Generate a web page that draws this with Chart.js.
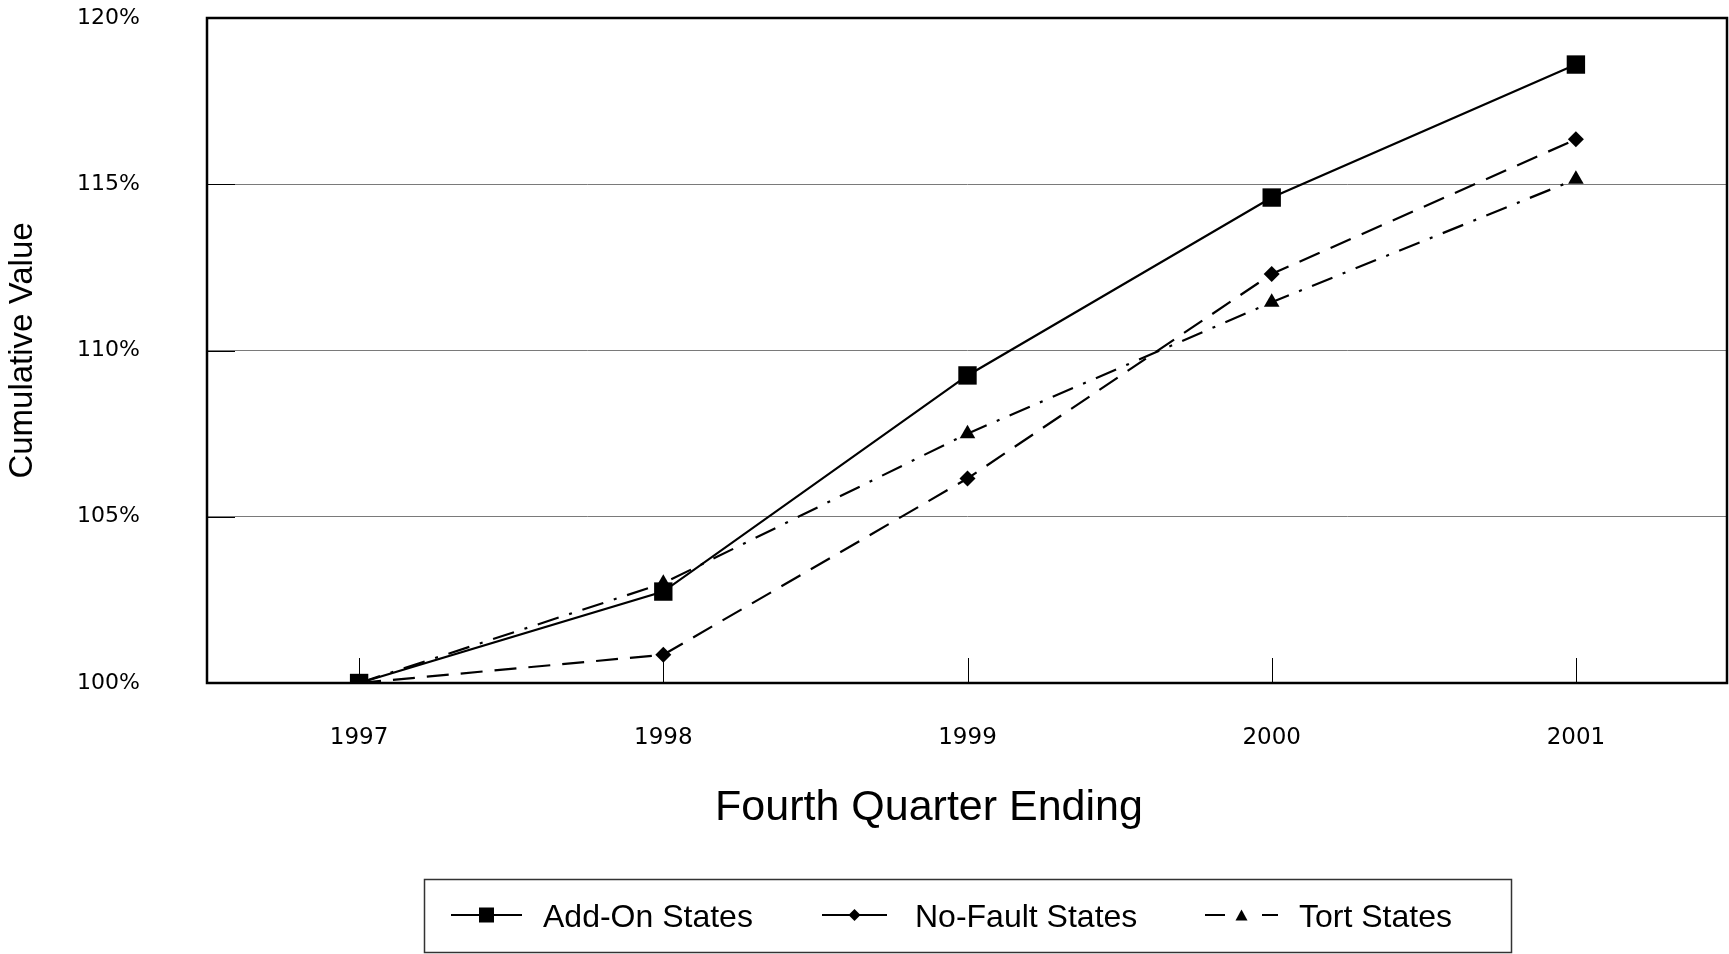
<!DOCTYPE html>
<html>
<head>
<meta charset="utf-8">
<script src="https://cdn.jsdelivr.net/npm/chart.js@4/dist/chart.umd.min.js"></script>
<style>
  html, body { margin: 0; padding: 0; background: #ffffff; }
  #wrap { width: 1729px; height: 954px; }
</style>
</head>
<body>
<div id="wrap"><canvas id="c" width="1729" height="954"></canvas></div>
<script>
// ---- data ----
const categories = ['1997', '1998', '1999', '2000', '2001'];
const addOnStates = [100, 102.75, 109.25, 114.6, 118.6];
const noFaultStates = [100, 100.85, 106.15, 112.3, 116.35];
const tortStates = [100, 103.0, 107.5, 111.45, 115.15];
const yTickValues = [100, 105, 110, 115, 120];
const seriesNames = ['Add-On States', 'No-Fault States', 'Tort States'];
const xTitle = 'Fourth Quarter Ending';
const yTitle = 'Cumulative Value';

function drawMarker(ctx, style, x, y, s) {
  ctx.beginPath();
  if (style === 'rect') {
    ctx.rect(x - s / 2, y - s / 2, s, s);
  } else if (style === 'rectRot') {
    ctx.moveTo(x, y - s / 2); ctx.lineTo(x + s / 2, y);
    ctx.lineTo(x, y + s / 2); ctx.lineTo(x - s / 2, y);
    ctx.closePath();
  } else if (style === 'triangle') {
    const h = s * 0.9;
    ctx.moveTo(x, y - h / 2); ctx.lineTo(x + s / 2, y + h / 2);
    ctx.lineTo(x - s / 2, y + h / 2); ctx.closePath();
  }
  ctx.fillStyle = '#000';
  ctx.fill();
}

const framePlugin = {
  id: 'frame',
  beforeDatasetsDraw(chart) {
    const ctx = chart.ctx;
    const { left, top, right, bottom } = chart.chartArea;
    const xs = chart.scales.x, ys = chart.scales.y;
    ctx.save();
    // short y tick marks inside the plot
    ctx.strokeStyle = '#000';
    ctx.lineWidth = 1;
    ys.ticks.forEach(t => {
      const py = Math.round(ys.getPixelForValue(t.value)) + 0.5;
      ctx.beginPath(); ctx.moveTo(left, py); ctx.lineTo(left + 28, py); ctx.stroke();
    });
    // x tick marks pointing up from the bottom axis
    categories.forEach((c, i) => {
      const px = Math.round(xs.getPixelForValue(i)) + 0.5;
      ctx.beginPath(); ctx.moveTo(px, bottom - 25); ctx.lineTo(px, bottom); ctx.stroke();
    });
    // frame
    ctx.lineWidth = 2.5;
    ctx.strokeRect(left, top, right - left - 1, bottom - top);
    ctx.restore();
  },
  afterDraw(chart) {
    const ctx = chart.ctx;
    ctx.save();
    // x axis title
    ctx.fillStyle = '#000';
    ctx.font = '43px "Liberation Sans", Arial, sans-serif';
    ctx.textAlign = 'center';
    ctx.textBaseline = 'alphabetic';
    ctx.fillText(xTitle, 929, 820);

    // legend box
    ctx.strokeStyle = '#333';
    ctx.lineWidth = 1.5;
    ctx.strokeRect(424.5, 879.5, 1087, 73);
    const starts = [451, 822, 1205];
    const lens = [71, 65, 73];
    const textX = [543, 915, 1299];
    const sizes = [15, 12, 12];
    chart.data.datasets.forEach((ds, i) => {
      const x0 = starts[i], x1 = x0 + lens[i], y = 915;
      ctx.strokeStyle = '#000';
      ctx.lineWidth = 2;
      ctx.setLineDash(i === 2 ? [20, 37, 16] : []);
      ctx.beginPath(); ctx.moveTo(x0, y); ctx.lineTo(x1, y); ctx.stroke();
      ctx.setLineDash([]);
      drawMarker(ctx, ds.pointStyle, (x0 + x1) / 2, y, sizes[i]);
      ctx.fillStyle = '#000';
      ctx.font = '32px "Liberation Sans", Arial, sans-serif';
      ctx.textAlign = 'left';
      ctx.textBaseline = 'alphabetic';
      ctx.fillText(ds.label, textX[i], 927);
    });
    ctx.restore();
  }
};

new Chart(document.getElementById('c'), {
  type: 'line',
  data: {
    labels: categories,
    datasets: [
      {
        label: seriesNames[0], data: addOnStates,
        borderColor: '#000', backgroundColor: '#000', borderWidth: 2.2,
        pointStyle: 'rect', pointRadius: 13, pointBorderWidth: 0,
        pointBackgroundColor: '#000', tension: 0
      },
      {
        label: seriesNames[1], data: noFaultStates,
        borderColor: '#000', backgroundColor: '#000', borderWidth: 2.2,
        borderDash: [22, 12],
        pointStyle: 'rectRot', pointRadius: 8, pointBorderWidth: 0,
        pointBackgroundColor: '#000', tension: 0
      },
      {
        label: seriesNames[2], data: tortStates,
        borderColor: '#000', backgroundColor: '#000', borderWidth: 2.2,
        borderDash: [22, 11, 3, 11],
        pointStyle: 'triangle', pointRadius: 9, pointBorderWidth: 0,
        pointBackgroundColor: '#000', tension: 0
      }
    ]
  },
  options: {
    responsive: false,
    devicePixelRatio: 1,
    animation: false,
    layout: { autoPadding: false, padding: { top: 18, right: 1, left: 0, bottom: 0 } },
    plugins: { legend: { display: false }, tooltip: { enabled: false } },
    scales: {
      x: {
        type: 'category',
        offset: true,
        grid: { display: false, drawTicks: false },
        border: { display: false },
        ticks: {
          color: '#000', padding: 41,
          font: { family: '"DejaVu Sans", sans-serif', size: 23 }
        },
        afterFit(scale) { scale.height = 271; scale.paddingLeft = 0; scale.paddingRight = 0; }
      },
      y: {
        min: 100, max: 120,
        afterBuildTicks(scale) { scale.ticks = yTickValues.map(v => ({ value: v })); },
        grid: { color: '#7a7a7a', lineWidth: 1, drawTicks: false },
        border: { display: false },
        ticks: {
          color: '#000', padding: 67,
          font: { family: '"DejaVu Sans", sans-serif', size: 22 },
          callback: v => v + '%'
        },
        title: {
          display: true, text: yTitle, color: '#000',
          font: { family: '"Liberation Sans", Arial, sans-serif', size: 33 },
          padding: { top: 3, bottom: 0 }
        },
        afterFit(scale) { scale.width = 207; scale.paddingTop = 0; scale.paddingBottom = 0; }
      }
    }
  },
  plugins: [framePlugin]
});
</script>
</body>
</html>
